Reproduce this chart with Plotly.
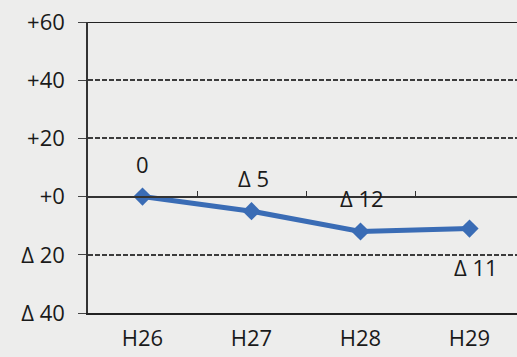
import plotly.graph_objects as go

# Data
years = ["H26", "H27", "H28", "H29"]
values = [0, -5, -12, -11]
value_labels = ["0", "Δ 5", "Δ 12", "Δ 11"]
label_shift = [33, 33, 34, -38]
label_xshift = [0, 2, 1, 6]
y_ticks = [60, 40, 20, 0, -20, -40]
y_tick_labels = ["+60", "+40", "+20", "+0", "Δ 20", "Δ 40"]

y_min, y_max = -40, 60
font_family = "Open Sans, Noto Sans, sans-serif"
text_color = "#1a1a1a"
bg = "#ededec"

fig = go.Figure()
fig.add_trace(go.Scatter(
    x=list(range(len(years))),
    y=values,
    mode="lines+markers",
    line=dict(color="#3a6cb5", width=5),
    marker=dict(symbol="diamond", size=14, color="#3a6cb5"),
    showlegend=False,
    hoverinfo="skip",
))

for i, (v, t) in enumerate(zip(values, value_labels)):
    fig.add_annotation(
        x=i, y=v, text=t, showarrow=False,
        yshift=label_shift[i], xshift=label_xshift[i],
        font=dict(family=font_family, size=22, color=text_color),
    )

# plot area: 429 px wide, each category band 109 px
x_end = -0.5 + 429 / 109

fig.update_layout(
    width=517, height=357,
    margin=dict(l=88, r=0, t=22, b=44),
    paper_bgcolor=bg, plot_bgcolor=bg,
    font=dict(family=font_family, size=22, color=text_color),
    xaxis=dict(
        range=[-0.5, x_end],
        tickmode="array",
        tickvals=list(range(len(years))),
        ticktext=years,
        showgrid=False, zeroline=False,
        showline=True, linecolor="#222", linewidth=2,
        ticks="", ticklabelstandoff=5,
        fixedrange=True,
    ),
    # category boundary ticks along the zero line
    xaxis2=dict(
        overlaying="x", matches="x",
        anchor="free",
        position=(0 - y_min) / (y_max - y_min),
        tickmode="array",
        tickvals=[i + 0.5 for i in range(len(years))],
        ticks="inside", ticklen=5, tickcolor="#333", tickwidth=1,
        showticklabels=False, showgrid=False, zeroline=False,
        showline=True, linecolor="#333", linewidth=1.5,
    ),
    yaxis=dict(
        range=[y_min, y_max],
        tickmode="array",
        tickvals=y_ticks,
        ticktext=y_tick_labels,
        showgrid=True, gridcolor="#3c3c3c", gridwidth=1.5, griddash="5px,2px",
        zeroline=False,
        showline=True, linecolor="#333", linewidth=1.5,
        ticks="outside", ticklen=8, tickcolor="#444", tickwidth=1,
        ticklabelstandoff=9,
        fixedrange=True,
    ),
)

# top border of the plot area
fig.add_trace(go.Scatter(x=[None], y=[None], xaxis="x2", showlegend=False))
fig.update_layout(shapes=[dict(
    type="line", xref="paper", yref="y", x0=0, x1=1, y0=y_max, y1=y_max,
    line=dict(color="#222", width=2),
)])

fig.write_html("out.html", config=dict(displayModeBar=False))
